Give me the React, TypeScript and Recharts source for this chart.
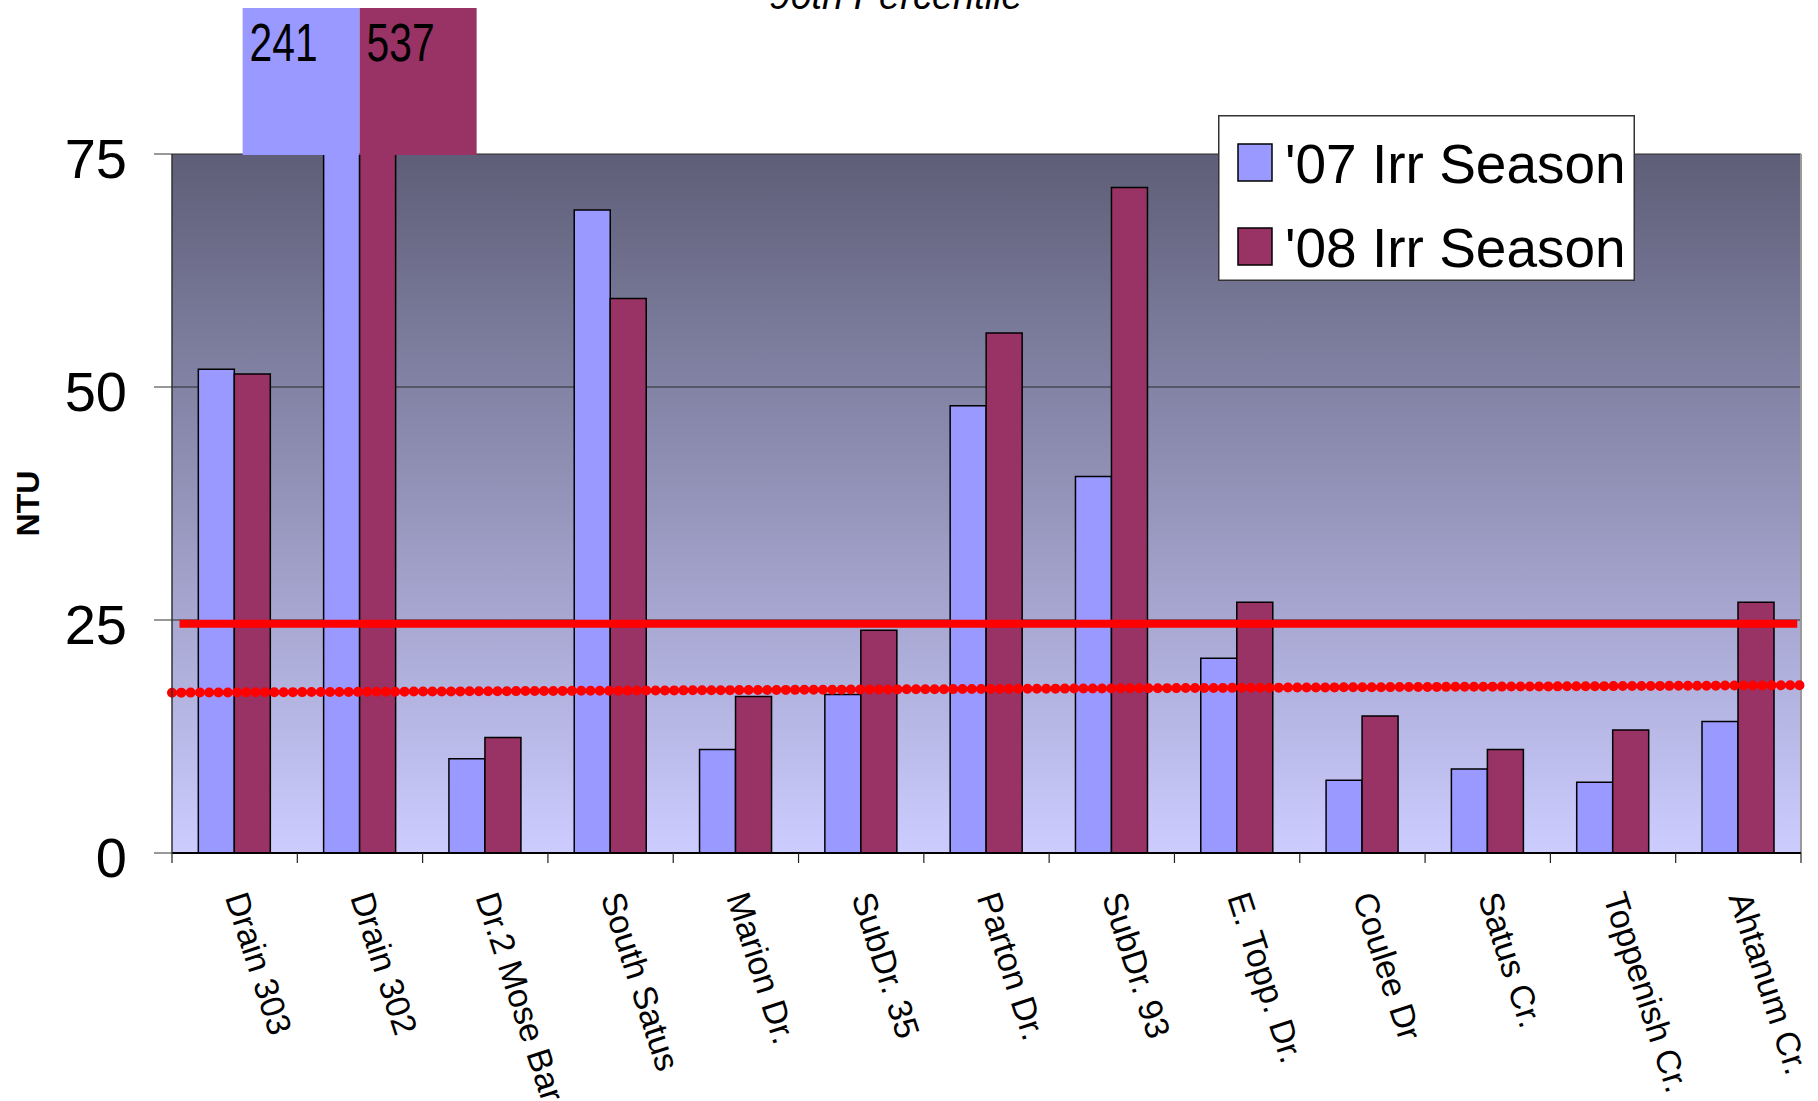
import React from 'react';
import { BarChart, Bar, XAxis, YAxis, CartesianGrid, ReferenceLine, Legend, LabelList } from 'recharts';

const categories = ['Drain 303', 'Drain 302', 'Dr.2 Mose Bar', 'South Satus', 'Marion Dr.', 'SubDr. 35', 'Parton Dr.', 'SubDr. 93', 'E. Topp. Dr.', 'Coulee Dr', 'Satus Cr.', 'Toppenish Cr.', 'Ahtanum Cr.'];
const season07 = [51.9, 241, 10.1, 69.0, 11.1, 17.0, 48.0, 40.4, 20.9, 7.8, 9.0, 7.6, 14.1];
const season08 = [51.4, 537, 12.4, 59.5, 16.8, 23.9, 55.8, 71.4, 26.9, 14.7, 11.1, 13.2, 26.9];
const seriesNames = ["'07 Irr Season", "'08 Irr Season"];
const seriesColors = ['#9999FF', '#993366'];
const yTicks = [0, 25, 50, 75];
const Y_MAX = 75;
const solidLimit = 24.6;
const solidLimitSpan = [0.06, 12.97];
const dottedLimit = [17.2, 18.0];
const title = '90th Percentile';
const yLabel = 'NTU';

const W = 1818;
const H = 1101;
const MARGIN = { top: 154, right: 17, bottom: 0, left: 0 };
const Y_AXIS_W = 172;
const X_AXIS_H = 248;
const PLOT_W = W - MARGIN.left - MARGIN.right - Y_AXIS_W;
const PLOT_BOTTOM = H - MARGIN.bottom - X_AXIS_H;
const BAND = PLOT_W / categories.length;
const OVER_H = 146;
const FONT = '"Liberation Sans", Arial, Helvetica, sans-serif';

const data = categories.map((name, i) => ({
  name,
  pos: i + 0.5,
  v07: Math.min(season07[i], Y_MAX),
  v08: Math.min(season08[i], Y_MAX),
  raw07: season07[i],
  raw08: season08[i],
}));

function CategoryTick(props: any) {
  const { x, y, payload, index } = props;
  const left = x - BAND / 2;
  const last = index === categories.length - 1;
  return (
    <g>
      <line x1={left} x2={left} y1={y} y2={y + 10} stroke="#222" strokeWidth={1.2} />
      {last && <line x1={left + BAND} x2={left + BAND} y1={y} y2={y + 10} stroke="#222" strokeWidth={1.2} />}
      <text
        transform={`translate(${x - 10},${y + 44}) rotate(72)`}
        fontSize={34}
        fontFamily={FONT}
        fill="#000"
        textAnchor="start"
      >
        {payload.value}
      </text>
    </g>
  );
}

function overflowLabel(side: 'left' | 'right', color: string) {
  return (props: any) => {
    const vb = props.viewBox || {};
    const x = Number(props.x ?? vb.x);
    const y = Number(props.y ?? vb.y);
    const width = Number(props.width ?? vb.width);
    const value = props.value;
    if (value == null || Number(value) <= Y_MAX) return null;
    const w = width * 3.25;
    const rx = side === 'left' ? x + width - w : x;
    const top = y - OVER_H;
    return (
      <g>
        <rect x={rx} y={top} width={w} height={OVER_H + 1} fill={color} />
        <text
          x={rx + 7}
          y={top + 53}
          fontSize={54}
          fontFamily={FONT}
          textLength={68}
          lengthAdjust="spacingAndGlyphs"
          fill="#000"
        >
          {value}
        </text>
      </g>
    );
  };
}

function LegendBox(props: any) {
  const payload = props.payload || [];
  return (
    <svg width={417} height={166} style={{ display: 'block' }}>
      <rect x={0.75} y={0.75} width={415.5} height={164.5} fill="#fff" stroke="#333" strokeWidth={1.5} />
      {payload.map((p: any, i: number) => (
        <g key={i}>
          <rect x={20} y={29 + i * 84} width={34} height={37} fill={p.color} stroke="#000" strokeWidth={1.5} />
          <text x={67} y={68 + i * 84} fontSize={55} fontFamily={FONT} fill="#000">
            {p.value}
          </text>
        </g>
      ))}
    </svg>
  );
}

export default function App() {
  return (
    <div style={{ position: 'absolute', left: 0, top: 0, width: W, height: H, overflow: 'hidden', background: '#fff' }}>
      <div
        style={{
          position: 'absolute',
          left: 896 - 400,
          top: -23,
          width: 800,
          textAlign: 'center',
          fontFamily: FONT,
          fontStyle: 'italic',
          fontSize: 38,
          lineHeight: '38px',
          zIndex: 2,
        }}
      >
        {title}
      </div>
      <BarChart width={W} height={H} data={data} margin={MARGIN} barCategoryGap="21%" barGap={0}>
        <defs>
          <linearGradient id="plotBg" x1="0" y1="0" x2="0" y2="1">
            <stop offset="0%" stopColor="#5E5E78" />
            <stop offset="100%" stopColor="#CCCCFF" />
          </linearGradient>
        </defs>
        <CartesianGrid vertical={false} stroke="#2a2a2a" fill="url(#plotBg)" fillOpacity={1} />
        <XAxis
          dataKey="name"
          height={X_AXIS_H}
          interval={0}
          tickSize={0}
          tickMargin={0}
          tickLine={false}
          axisLine={{ stroke: '#000', strokeWidth: 2 }}
          tick={<CategoryTick />}
        />
        <XAxis xAxisId="n" type="number" dataKey="pos" domain={[0, categories.length]} hide />
        <YAxis
          width={Y_AXIS_W}
          domain={[0, Y_MAX]}
          ticks={yTicks}
          interval={0}
          tickSize={18}
          tickMargin={27}
          axisLine={{ stroke: '#333', strokeWidth: 1.5 }}
          tickLine={{ stroke: '#333' }}
          tick={{ fill: '#000', fontSize: 56, fontFamily: FONT, dy: 4 }}
          label={{
            content: () => (
              <text
                transform={`translate(39,${(MARGIN.top + PLOT_BOTTOM) / 2}) rotate(-90)`}
                textAnchor="middle"
                fontSize={32}
                fontWeight="bold"
                fontFamily={FONT}
                fill="#000"
              >
                {yLabel}
              </text>
            ),
          }}
        />
        <Bar dataKey="v07" name={seriesNames[0]} fill={seriesColors[0]} stroke="#000" strokeWidth={1.5} isAnimationActive={false}>
          <LabelList dataKey="raw07" content={overflowLabel('left', seriesColors[0])} />
        </Bar>
        <Bar dataKey="v08" name={seriesNames[1]} fill={seriesColors[1]} stroke="#000" strokeWidth={1.5} isAnimationActive={false}>
          <LabelList dataKey="raw08" content={overflowLabel('right', seriesColors[1])} />
        </Bar>
        <ReferenceLine xAxisId="n" x={categories.length} stroke="#9a9a9a" strokeWidth={2} />
        <ReferenceLine
          xAxisId="n"
          segment={[{ x: solidLimitSpan[0], y: solidLimit }, { x: solidLimitSpan[1], y: solidLimit }]}
          stroke="#FF0000"
          strokeWidth={8}
        />
        <ReferenceLine
          xAxisId="n"
          segment={[{ x: 0, y: dottedLimit[0] }, { x: categories.length, y: dottedLimit[1] }]}
          stroke="#FF0000"
          strokeWidth={10}
          strokeDasharray="0 9.3"
          strokeLinecap="round"
        />
        <Legend
          layout="vertical"
          align="center"
          verticalAlign="middle"
          content={<LegendBox />}
          wrapperStyle={{ left: 1218, top: 115, width: 417, height: 166 }}
        />
      </BarChart>
    </div>
  );
}
